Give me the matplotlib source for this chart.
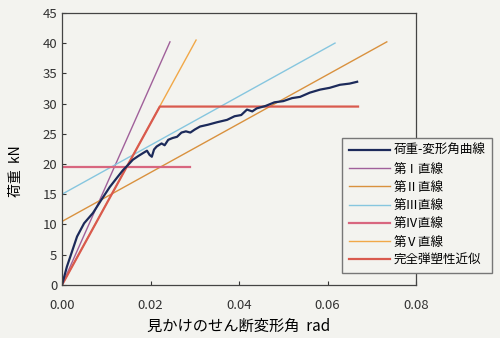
import matplotlib
matplotlib.use("Agg")
import matplotlib.pyplot as plt
import numpy as np

plt.rcParams['font.family'] = ['Noto Sans CJK JP', 'DejaVu Sans']

# Load-deformation curve
curve_x = [0.0, 0.0011, 0.0034, 0.0050, 0.0070, 0.0090, 0.0108, 0.0125, 0.0138, 0.0150,
           0.0160, 0.0172, 0.0183, 0.0192, 0.0198, 0.0203, 0.0208, 0.0214, 0.0225, 0.0232,
           0.0240, 0.0250, 0.0260, 0.0270, 0.0280, 0.0290, 0.0300, 0.0312, 0.0330, 0.0350,
           0.0373, 0.0390, 0.0405, 0.0418, 0.0430, 0.0440, 0.0460, 0.0480, 0.0500, 0.0520,
           0.0538, 0.0560, 0.0583, 0.0605, 0.0628, 0.0650, 0.0667]
curve_y = [0.0, 3.0, 8.0, 10.2, 11.9, 14.2, 16.2, 17.8, 19.0, 19.9,
           20.7, 21.3, 21.8, 22.2, 21.5, 21.2, 22.4, 22.9, 23.4, 23.1,
           24.0, 24.3, 24.5, 25.2, 25.4, 25.2, 25.7, 26.2, 26.5, 26.9,
           27.3, 27.9, 28.1, 29.0, 28.7, 29.2, 29.6, 30.2, 30.4, 30.9,
           31.1, 31.8, 32.3, 32.6, 33.1, 33.3, 33.6]

# Straight lines: (x0, y0) -> (x1, y1)
line1 = ([0.0, 0.0244], [0.0, 40.2])
line2 = ([0.0, 0.0734], [10.5, 40.2])
line3 = ([0.0, 0.0617], [15.0, 40.0])
line4 = ([0.0, 0.0290], [19.5, 19.5])
line5 = ([0.0, 0.0303], [0.0, 40.5])
bilinear = ([0.0, 0.0221, 0.0669], [0.0, 29.5, 29.5])

labels = ['荷重-変形角曲線', '第Ⅰ直線', '第Ⅱ直線', '第Ⅲ直線', '第Ⅳ直線', '第Ⅴ直線', '完全弾塑性近似']
colors = ['#1c2a5a', '#a0609a', '#d9913e', '#86c6df', '#d8667f', '#f1a848', '#d95a4e']

fig = plt.figure(figsize=(5, 3.38), dpi=100, facecolor='#f3f3ef')
ax = fig.add_axes([0.124, 0.157, 0.708, 0.805])
ax.set_facecolor('#f3f3ef')

ax.plot(*line1, color=colors[1], lw=1.0, label=labels[1])
ax.plot(*line2, color=colors[2], lw=1.0, label=labels[2])
ax.plot(*line3, color=colors[3], lw=1.0, label=labels[3])
ax.plot(*line4, color=colors[4], lw=1.6, label=labels[4])
ax.plot(*line5, color=colors[5], lw=1.0, label=labels[5])
ax.plot(*bilinear, color=colors[6], lw=1.6, label=labels[6])
ax.plot(curve_x, curve_y, color=colors[0], lw=1.6, label=labels[0])

ax.set_xlim(0, 0.08)
ax.set_ylim(0, 45)
ax.set_xticks(np.arange(0, 0.081, 0.02))
ax.set_yticks(np.arange(0, 46, 5))
ax.xaxis.set_major_formatter(matplotlib.ticker.FormatStrFormatter('%.2f'))
ax.tick_params(direction='in', labelsize=9.5, colors='#333333', length=3)
ax.tick_params(axis='x', pad=10)
for s in ax.spines.values():
    s.set_color('#444444')
    s.set_linewidth(0.9)

ax.set_xlabel('見かけのせん断変形角  rad', fontsize=11, labelpad=4)
ax.set_ylabel('荷重  kN', fontsize=10)
ax.yaxis.set_label_coords(-0.11, 0.42)

h, l = ax.get_legend_handles_labels()
order = [6, 0, 1, 2, 3, 4, 5]
leg = fig.legend([h[i] for i in order], [l[i] for i in order],
                 loc='upper left', bbox_to_anchor=(0.672, 0.61), fontsize=9,
                 frameon=True, fancybox=False, edgecolor='#777777',
                 facecolor='#f3f3ef', framealpha=1, handlelength=3.3,
                 labelspacing=0.42, borderpad=0.5, handletextpad=0.3)

fig.savefig('out.png', dpi=100, facecolor=fig.get_facecolor())
